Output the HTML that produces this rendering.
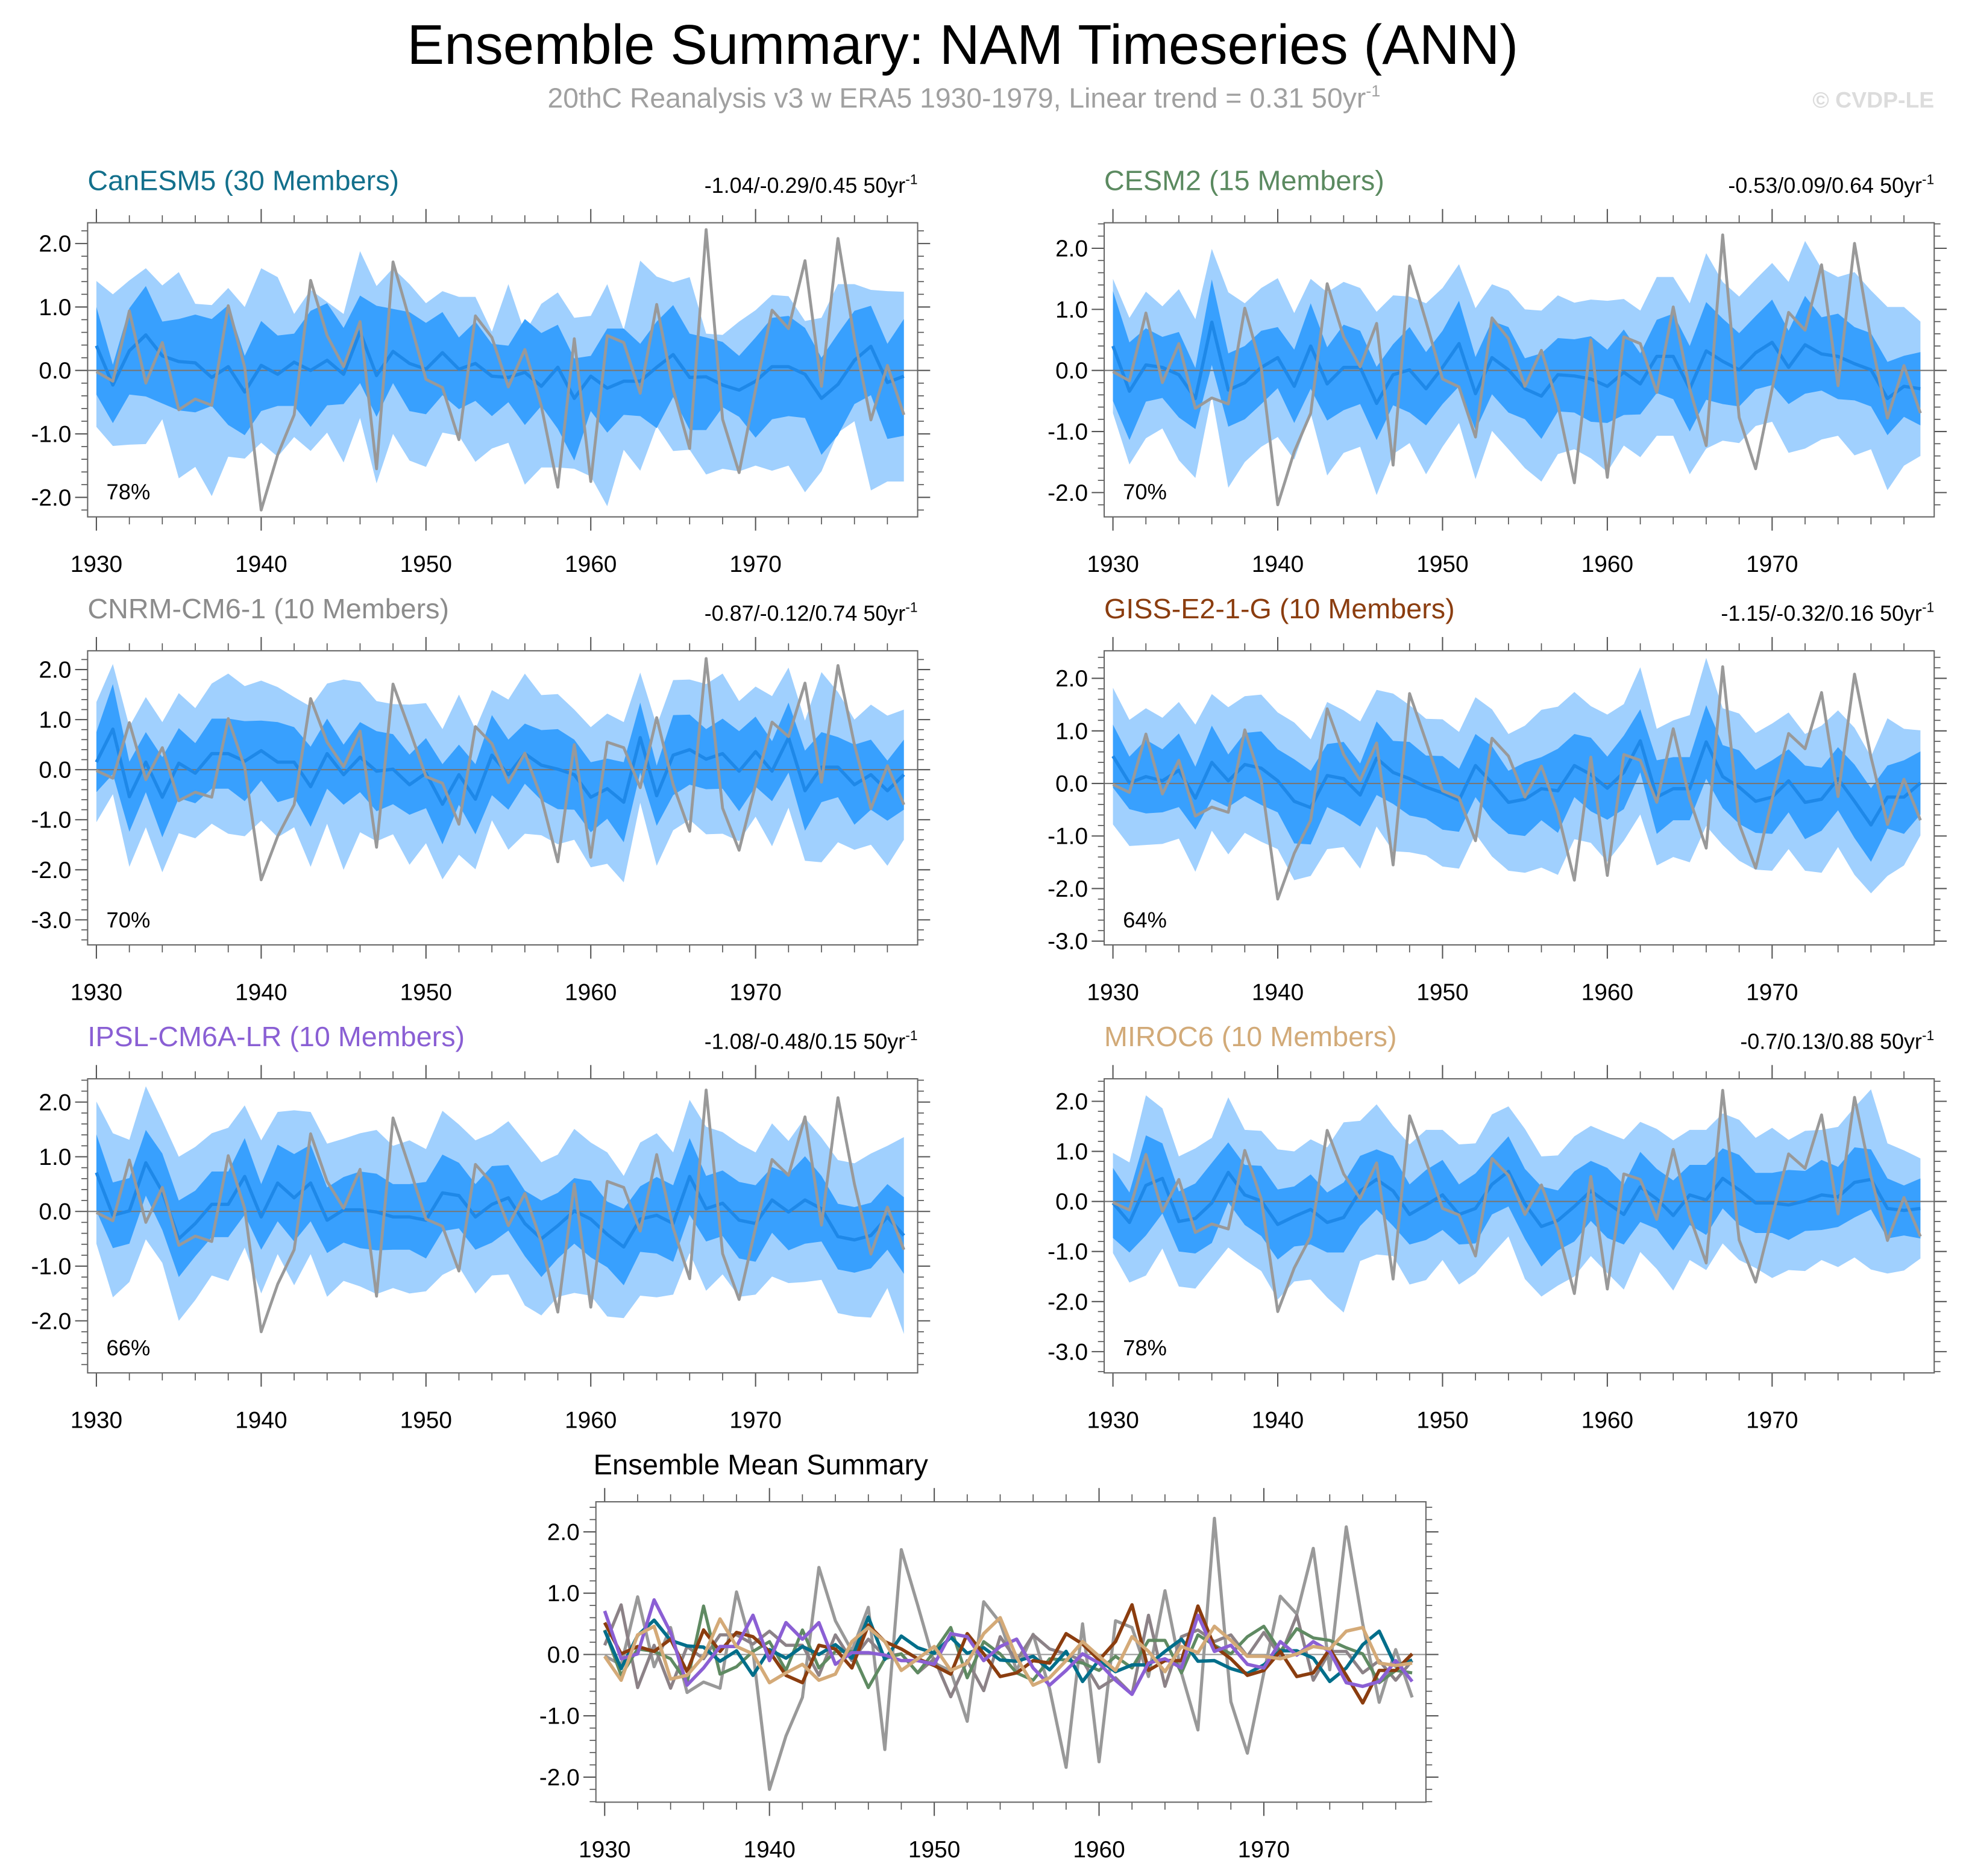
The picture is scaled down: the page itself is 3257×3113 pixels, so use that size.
<!DOCTYPE html>
<html><head><meta charset="utf-8"><title>Ensemble Summary: NAM Timeseries (ANN)</title>
<style>html,body{margin:0;padding:0;background:#fff}svg{display:block}text{font-family:"Liberation Sans",Arial,sans-serif}</style>
</head><body>
<svg id="fig" xmlns="http://www.w3.org/2000/svg" width="3257" height="3113" viewBox="0 0 1568 1499" preserveAspectRatio="none">
<text x="769" y="51" font-size="44.5" text-anchor="middle" fill="#000">Ensemble Summary: NAM Timeseries (ANN)</text>
<text x="770" y="86" font-size="22.3" text-anchor="middle" fill="#a0a0a0">20thC Reanalysis v3 w ERA5 1930-1979, Linear trend = 0.31 50yr<tspan font-size="13" dy="-9">-1</tspan></text>
<text x="1545" y="86" font-size="18" font-weight="bold" text-anchor="end" fill="#dcdcdc">© CVDP-LE</text>
<g id="plots"></g>
</svg>
<script>
const years = [1930,1931,1932,1933,1934,1935,1936,1937,1938,1939,1940,1941,1942,1943,1944,1945,1946,1947,1948,1949,1950,1951,1952,1953,1954,1955,1956,1957,1958,1959,1960,1961,1962,1963,1964,1965,1966,1967,1968,1969,1970,1971,1972,1973,1974,1975,1976,1977,1978,1979];
const obs = [-0.02,-0.17,0.94,-0.2,0.44,-0.62,-0.45,-0.55,1.02,0.05,-2.2,-1.33,-0.7,1.42,0.55,0.06,0.77,-1.55,1.71,0.8,-0.14,-0.27,-1.09,0.86,0.52,-0.26,0.33,-0.56,-1.84,0.5,-1.75,0.55,0.44,-0.36,1.04,-0.3,-1.23,2.22,-0.77,-1.61,-0.3,0.95,0.66,1.73,-0.25,2.08,0.5,-0.78,0.08,-0.7];
const meanCan = [0.39,-0.23,0.31,0.56,0.23,0.14,0.12,-0.11,0.06,-0.34,0.08,-0.06,0.13,0,0.16,-0.06,0.61,-0.08,0.3,0.11,0.02,0.28,0.02,0.11,-0.09,-0.11,-0.03,-0.25,0.05,-0.44,-0.09,-0.28,-0.17,-0.17,0.05,0.25,-0.11,-0.1,-0.23,-0.31,-0.17,0.06,0.06,-0.06,-0.44,-0.22,0.16,0.38,-0.19,-0.09];
const meanCesm = [0.4,-0.34,0.09,0.05,-0.07,-0.46,0.79,-0.32,-0.2,0.05,0.21,-0.26,0.4,-0.22,0.05,0.05,-0.54,-0.07,0.01,-0.3,0.05,0.44,-0.38,0.21,0.01,-0.3,-0.42,-0.07,-0.09,-0.14,-0.26,-0.03,-0.22,0.23,0.23,-0.3,0.32,0.15,0.01,0.29,0.46,0.05,0.42,0.27,0.23,0.11,0.01,-0.46,-0.26,-0.3];
const meanCnrm = [0.15,0.81,-0.54,0.15,-0.55,0.13,-0.07,0.32,0.32,0.17,0.38,0.15,0.15,-0.34,0.32,-0.1,0.25,-0.03,0.01,-0.3,-0.07,-0.69,-0.1,-0.59,0.29,-0.1,0.32,0.09,0.01,-0.1,-0.55,-0.38,-0.65,0.64,-0.52,0.29,0.4,0.21,0.32,-0.03,0.36,-0.03,0.64,-0.42,0.05,0.05,-0.3,-0.1,-0.42,-0.1];
const meanGiss = [0.52,0.01,0.13,0.05,0.25,-0.28,0.4,0.05,0.36,0.29,0.05,-0.34,-0.46,0.15,0.09,-0.22,0.48,0.21,0.09,-0.07,-0.18,-0.32,0.34,0.01,-0.36,-0.3,-0.1,-0.14,0.34,0.17,-0.09,0.21,0.81,-0.26,-0.1,-0.1,0.79,0.13,-0.07,-0.34,-0.26,0.05,-0.36,-0.3,0.09,-0.34,-0.79,-0.26,-0.26,0.01];
const meanIpsl = [0.71,-0.07,0.01,0.89,0.36,-0.5,-0.22,0.13,0.13,0.64,-0.1,0.52,0.25,0.52,-0.16,0.03,0.03,-0.01,-0.1,-0.1,-0.16,0.34,0.29,-0.1,0.13,0.25,-0.22,-0.5,-0.26,0.01,-0.14,-0.42,-0.65,-0.14,-0.07,-0.22,0.64,0.05,0.15,-0.16,-0.22,0.21,-0.01,0.21,0.05,-0.46,-0.52,-0.44,-0.1,-0.44];
const meanMiroc = [-0.03,-0.42,0.32,0.46,-0.4,-0.34,-0.03,0.58,0.13,0.01,-0.46,-0.3,-0.16,-0.42,-0.32,0.21,0.44,0.21,-0.26,-0.07,0.13,-0.26,-0.14,0.34,0.6,-0.05,-0.5,-0.38,-0.1,0.21,-0.03,-0.26,0.29,0.05,-0.28,0.13,0.03,0.46,0.23,-0.03,-0.03,-0.07,0.01,0.13,0.09,0.38,0.44,-0.14,-0.18,-0.14];
const canDarkHi = [1.0,0.09,0.98,1.33,0.77,0.81,0.88,0.81,1.03,0.23,0.78,0.55,0.58,0.94,1.06,0.67,1.18,1.02,0.97,0.92,0.75,0.92,0.52,0.77,0.42,0.39,0.81,0.59,0.72,0.19,0.23,0.66,0.66,0.42,0.77,1.03,0.58,0.52,0.45,0.23,0.52,0.83,0.86,0.67,0.2,0.58,0.94,1.02,0.42,0.81];
const canDarkLo = [-0.38,-0.83,-0.38,-0.41,-0.52,-0.63,-0.66,-0.56,-0.86,-1.02,-0.64,-0.56,-0.56,-0.89,-0.55,-0.53,-0.2,-0.73,-0.2,-0.64,-0.69,-0.39,-0.61,-0.48,-0.72,-0.5,-0.86,-0.56,-0.92,-1.42,-0.64,-0.98,-0.7,-0.72,-0.91,-0.42,-0.94,-0.94,-0.58,-0.73,-1.06,-0.77,-0.72,-0.75,-1.33,-1.02,-0.53,-0.39,-1.08,-1.03];
const canLightHi = [1.41,1.2,1.42,1.61,1.34,1.55,1.05,1.03,1.3,1.0,1.61,1.47,0.89,1.27,1.08,0.89,1.88,1.33,1.61,1.36,1.06,1.25,1.16,1.16,0.61,1.36,0.59,1.05,1.23,0.83,0.86,1.36,0.64,1.73,1.48,1.39,1.47,0.58,0.56,0.77,0.95,1.19,1.17,0.78,0.83,1.36,1.36,1.27,1.25,1.24];
const canLightLo = [-0.89,-1.19,-1.17,-1.16,-0.77,-1.7,-1.52,-1.98,-1.36,-1.39,-1.14,-1.36,-1.05,-1.27,-0.98,-1.45,-0.75,-1.78,-1.0,-1.42,-1.52,-0.98,-1.03,-1.44,-1.23,-1.14,-1.8,-1.53,-1.53,-1.55,-1.67,-2.14,-1.25,-1.58,-0.88,-1.27,-1.25,-1.64,-1.55,-1.59,-1.5,-1.58,-1.5,-1.92,-1.59,-0.98,-0.8,-1.89,-1.75,-1.75];
const cesmDark = [0.9,0.8,0.6,0.5,0.7,0.5,0.7,0.6,0.6,0.6,0.5,0.6,0.7,0.6,0.7,0.6,0.6,0.5,0.7,0.6,0.6,0.7,0.6,0.6,0.7,0.5,0.7,0.6,0.6,0.7,0.6,0.7,0.5,0.6,0.7,0.7,0.8,0.7,0.6,0.6,0.7,0.6,0.8,0.6,0.7,0.6,0.6,0.6,0.5,0.6];
const cesmLight = [1.1,1.2,1.2,1.0,1.4,1.3,1.2,1.6,1.3,1.3,1.3,1.2,1.1,1.5,1.4,1.3,1.5,1.3,1.2,1.4,1.3,1.3,1.4,1.2,1.3,1.3,1.4,1.3,1.2,1.3,1.4,1.2,1.2,1.3,1.3,1.4,1.6,1.3,1.2,1.2,1.3,1.4,1.7,1.4,1.3,1.5,1.3,1.5,1.3,1.1];
const cnrmDark = [0.6,0.9,0.7,0.6,0.8,0.7,0.6,0.7,0.7,0.8,0.6,0.8,0.7,0.8,0.7,0.6,0.7,0.8,0.7,0.6,0.7,0.8,0.6,0.7,0.8,0.7,0.6,0.7,0.8,0.7,0.7,0.6,0.8,0.7,0.6,0.8,0.7,0.6,0.7,0.8,0.7,0.6,0.7,0.8,0.7,0.6,0.8,0.7,0.6,0.7];
const cnrmLight = [1.2,1.3,1.4,1.3,1.5,1.4,1.3,1.4,1.6,1.5,1.4,1.5,1.3,1.6,1.4,1.9,1.5,1.4,1.3,1.6,1.4,1.5,1.6,1.4,1.3,1.5,1.6,1.4,1.5,1.3,1.4,1.5,1.6,1.3,1.4,1.5,1.4,1.5,1.6,1.4,1.3,1.5,1.4,1.4,1.9,1.5,1.3,1.4,1.5,1.3];
const gissDark = [0.6,0.5,0.7,0.6,0.7,0.6,0.7,0.5,0.6,0.7,0.6,0.8,0.7,0.6,0.7,0.6,0.7,0.6,0.7,0.6,0.7,0.6,0.6,0.7,0.6,0.7,0.6,0.8,0.6,0.7,0.6,0.7,0.6,0.7,0.6,0.6,0.7,0.6,0.7,0.6,0.7,0.6,0.7,0.6,0.6,0.7,0.7,0.6,0.7,0.6];
const gissLight = [1.3,1.2,1.3,1.2,1.3,1.4,1.3,1.4,1.3,1.4,1.3,1.5,1.3,1.4,1.3,1.4,1.3,1.5,1.4,1.3,1.4,1.3,1.3,1.4,1.3,1.4,1.5,1.6,1.4,1.3,1.4,1.3,1.4,1.3,1.3,1.4,1.6,1.3,1.4,1.3,1.4,1.3,1.3,1.4,1.3,1.4,1.3,1.5,1.3,1.0];
const ipslDark = [0.7,0.6,0.6,0.6,0.7,0.7,0.6,0.6,0.6,0.7,0.6,0.7,0.8,0.7,0.6,0.6,0.7,0.7,0.6,0.6,0.7,0.7,0.6,0.6,0.7,0.6,0.6,0.7,0.6,0.6,0.7,0.6,0.7,0.6,0.7,0.7,0.7,0.6,0.6,0.7,0.7,0.6,0.7,0.8,0.6,0.6,0.6,0.6,0.6,0.7];
const ipslLight = [1.3,1.5,1.3,1.4,1.3,1.5,1.4,1.3,1.4,1.3,1.4,1.3,1.6,1.3,1.4,1.3,1.4,1.5,1.3,1.4,1.3,1.5,1.3,1.4,1.3,1.4,1.5,1.4,1.3,1.5,1.4,1.5,1.3,1.4,1.5,1.3,1.4,1.5,1.3,1.4,1.3,1.4,1.3,1.5,1.3,1.4,1.4,1.5,1.3,1.8];
const mirocDark = [0.7,0.6,1.0,0.7,0.6,0.7,0.8,0.6,0.6,0.7,0.7,0.6,0.7,0.6,0.7,0.7,0.6,0.7,0.6,0.7,0.7,0.6,0.7,0.6,0.7,0.7,0.8,0.6,0.7,0.6,0.7,0.6,0.7,0.6,0.7,0.6,0.7,0.6,0.7,0.6,0.6,0.7,0.6,0.7,0.6,0.7,0.6,0.6,0.5,0.6];
const mirocLight = [1.0,1.2,1.8,1.4,1.3,1.4,1.3,1.5,1.3,1.4,1.5,1.3,1.4,1.5,1.9,1.4,1.5,1.3,1.4,1.5,1.3,1.4,1.3,1.4,1.3,1.5,1.4,1.3,1.4,1.3,1.4,1.5,1.3,1.4,1.5,1.3,1.4,1.3,1.4,1.3,1.5,1.3,1.4,1.3,1.4,1.5,1.8,1.3,1.2,1.0];
const ytick2 = ["2.0","1.0","0.0","-1.0","-2.0"];
const ytick3 = ["2.0","1.0","0.0","-1.0","-2.0","-3.0"];
const xtickLabels = ["1930","1940","1950","1960","1970"];

const NS = "http://www.w3.org/2000/svg";
const root = document.getElementById('plots');
function mk(tag, attrs, parent) {
  const e = document.createElementNS(NS, tag);
  for (const k in attrs) e.setAttribute(k, attrs[k]);
  (parent || root).appendChild(e);
  return e;
}
function addSub(a, b, s) { return a.map((v, i) => v + s * b[i]); }

function axes(p, g) {
  const xs = yr => p.x0 + 7 + (yr - 1930) * p.dx;
  const ys = v => p.zy - v * p.ppu;
  const vmax = (p.zy - p.y0) / p.ppu, vmin = (p.zy - p.y1) / p.ppu;
  for (let k = Math.ceil(vmin * 5 - 1e-6); k <= Math.floor(vmax * 5 + 1e-6); k++) {
    const v = k / 5, y = ys(v), major = k % 5 === 0, L = major ? 10 : 5;
    const t1 = mk('line', {x1: p.x0 - L, x2: p.x0, y1: y, y2: y, stroke: '#555', 'stroke-width': major ? 1 : 0.8}, g);
    
    
    const t2 = mk('line', {x1: p.x1, x2: p.x1 + L, y1: y, y2: y, stroke: '#555', 'stroke-width': major ? 1 : 0.8}, g);
    
    
  }
  p.yl.forEach(s => {
    const t = mk('text', {x: p.x0 - 13, y: ys(parseFloat(s)) + 6.5, 'font-size': 18.7, 'text-anchor': 'end'}, g);
    t.textContent = s;
    
    
  });
  for (let yr = 1930; yr <= 1979; yr += 2) {
    const x = xs(yr), major = (yr % 10 === 0), L = major ? 11 : 6;
    const a = mk('line', {x1: x, x2: x, y1: p.y1, y2: p.y1 + L, stroke: '#555', 'stroke-width': major ? 1 : 0.8}, g);
    
    
    const b = mk('line', {x1: x, x2: x, y1: p.y0 - L, y2: p.y0, stroke: '#555', 'stroke-width': major ? 1 : 0.8}, g);
    
    
  }
  xtickLabels.forEach(s => {
    const t = mk('text', {x: xs(+s), y: p.y1 + 44, 'font-size': 18.7, 'text-anchor': 'middle'}, g);
    t.textContent = s;
    
    
  });
  return {xs, ys};
}
function polyline(vals, ax, color, w, g, name) {
  const pts = vals.map((v, i) => ax.xs(years[i]).toFixed(2) + ',' + ax.ys(v).toFixed(2)).join(' ');
  const l = mk('polyline', {points: pts, fill: 'none', stroke: color, 'stroke-width': w, 'stroke-linejoin': 'round'}, g);
  
  
}
function band(hi, lo, ax, color, g, name) {
  const up = hi.map((v, i) => ax.xs(years[i]).toFixed(2) + ',' + ax.ys(v).toFixed(2));
  const dn = lo.map((v, i) => ax.xs(years[i]).toFixed(2) + ',' + ax.ys(v).toFixed(2)).reverse();
  const pg = mk('polygon', {points: up.concat(dn).join(' '), fill: color, stroke: 'none'}, g);
  
  
}

const L = {x0: 70, x1: 733}, R = {x0: 882, x1: 1545};
const panels = [
  {key:'canesm5', ...L, y0:178, y1:413, zy:296, ppu:50.7, yl:ytick2, title:'CanESM5 (30 Members)', col:'#13708c', trend:'-1.04/-0.29/0.45 50yr', pct:'78%', mean:meanCan, dHi:canDarkHi, dLo:canDarkLo, lHi:canLightHi, lLo:canLightLo},
  {key:'cesm2', ...R, y0:178, y1:413, zy:296, ppu:48.8, yl:ytick2, title:'CESM2 (15 Members)', col:'#5b8a60', trend:'-0.53/0.09/0.64 50yr', pct:'70%', mean:meanCesm, d:cesmDark, l:cesmLight},
  {key:'cnrm-cm6-1', ...L, y0:520, y1:755, zy:615, ppu:40, yl:ytick3, title:'CNRM-CM6-1 (10 Members)', col:'#8c8c8c', trend:'-0.87/-0.12/0.74 50yr', pct:'70%', mean:meanCnrm, d:cnrmDark, l:cnrmLight},
  {key:'giss-e2-1-g', ...R, y0:520, y1:755, zy:626, ppu:42, yl:ytick3, title:'GISS-E2-1-G (10 Members)', col:'#8b3d0f', trend:'-1.15/-0.32/0.16 50yr', pct:'64%', mean:meanGiss, d:gissDark, l:gissLight},
  {key:'ipsl-cm6a-lr', ...L, y0:862, y1:1097, zy:968, ppu:43.7, yl:ytick2, title:'IPSL-CM6A-LR (10 Members)', col:'#8a5fd4', trend:'-1.08/-0.48/0.15 50yr', pct:'66%', mean:meanIpsl, d:ipslDark, l:ipslLight},
  {key:'miroc6', ...R, y0:862, y1:1097, zy:960, ppu:40, yl:ytick3, title:'MIROC6 (10 Members)', col:'#d2aa78', trend:'-0.7/0.13/0.88 50yr', pct:'78%', mean:meanMiroc, d:mirocDark, l:mirocLight}
];

panels.forEach(p => {
  p.dx = (p.x1 - p.x0 - 18) / 49;
  const g = mk('g', {});
  
  
  const cid = 'clip-' + p.key;
  const cp = mk('clipPath', {id: cid}, g);
  mk('rect', {x: p.x0, y: p.y0, width: p.x1 - p.x0, height: p.y1 - p.y0}, cp);
  const ax = axes(p, g);
  const inner = mk('g', {'clip-path': 'url(#' + cid + ')'}, g);
  const lHi = p.lHi || addSub(p.mean, p.l, 1), lLo = p.lLo || addSub(p.mean, p.l, -1);
  const dHi = p.dHi || addSub(p.mean, p.d, 1), dLo = p.dLo || addSub(p.mean, p.d, -1);
  band(lHi, lLo, ax, '#a0d0fe', inner, 'light-spread-band');
  band(dHi, dLo, ax, '#38a0fe', inner, 'dark-spread-band');
  const z = mk('line', {x1: p.x0, x2: p.x1, y1: ax.ys(0), y2: ax.ys(0), stroke: '#777', 'stroke-width': 1}, inner);
  
  
  polyline(p.mean, ax, '#1e88e8', 2.6, inner, 'ensemble-mean-line');
  polyline(obs, ax, '#999999', 2.3, inner, 'observed-line');
  const box = mk('rect', {x: p.x0, y: p.y0, width: p.x1 - p.x0, height: p.y1 - p.y0, fill: 'none', stroke: '#666', 'stroke-width': 1}, g);
  
  
  const t = mk('text', {x: p.x0, y: p.y0 - 26, 'font-size': 22.5, fill: p.col}, g);
  t.textContent = p.title;
  
  
  const tr = mk('text', {x: p.x1, y: p.y0 - 24, 'font-size': 17.3, 'text-anchor': 'end'}, g);
  tr.textContent = p.trend;
  
  
  const sup = mk('tspan', {'font-size': 11, dy: -7}, tr);
  sup.textContent = '-1';
  const pc = mk('text', {x: p.x0 + 15, y: p.y1 - 14, 'font-size': 17.5}, g);
  pc.textContent = p.pct;
  
  
});

const S = {key:'summary', x0:476, x1:1139, y0:1200, y1:1440, zy:1322, ppu:49, yl:ytick2};
S.dx = (S.x1 - S.x0 - 18) / 49;
const gs = mk('g', {});


const axS = axes(S, gs);
const zs = mk('line', {x1: S.x0, x2: S.x1, y1: axS.ys(0), y2: axS.ys(0), stroke: '#999', 'stroke-width': 1}, gs);


polyline(obs, axS, '#999999', 2.5, gs, 'observed-line');
polyline(meanCnrm, axS, '#8c8287', 2.5, gs, 'cnrm-mean-line');
polyline(meanCesm, axS, '#5f8a62', 2.5, gs, 'cesm2-mean-line');
polyline(meanCan, axS, '#006e8a', 2.7, gs, 'canesm5-mean-line');
polyline(meanGiss, axS, '#8b3d0f', 2.7, gs, 'giss-mean-line');
polyline(meanIpsl, axS, '#8b5fd4', 2.7, gs, 'ipsl-mean-line');
polyline(meanMiroc, axS, '#d4aa78', 2.7, gs, 'miroc6-mean-line');
const bs = mk('rect', {x: S.x0, y: S.y0, width: S.x1 - S.x0, height: S.y1 - S.y0, fill: 'none', stroke: '#666', 'stroke-width': 1}, gs);


const st = mk('text', {x: S.x0 - 2, y: S.y0 - 22, 'font-size': 22.7}, gs);
st.textContent = 'Ensemble Mean Summary';


</script>
</body></html>
